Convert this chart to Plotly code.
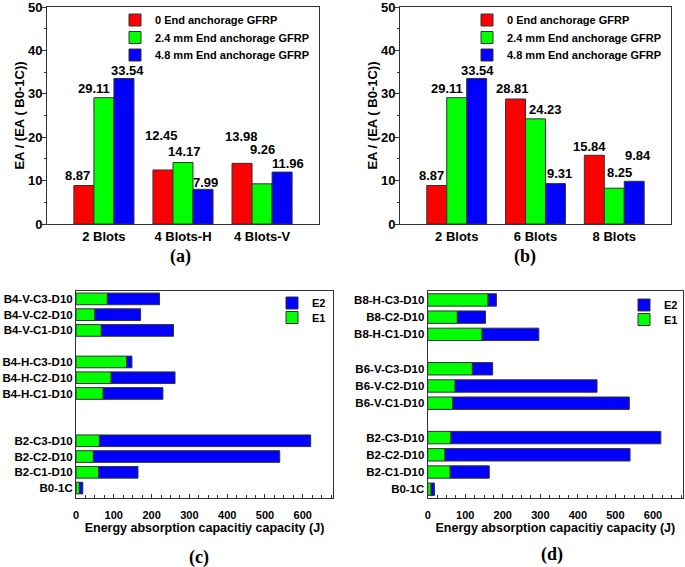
import plotly.graph_objects as go

# ---------------- data ----------------
series_names = ["0 End anchorage GFRP", "2.4 mm End anchorage GFRP", "4.8 mm End anchorage GFRP"]
series_colors = ["#FF0000", "#00FF00", "#0000FF"]

a_categories = ["2 Blots", "4 Blots-H", "4 Blots-V"]
a_red = [8.87, 12.45, 13.98]
a_green = [29.11, 14.17, 9.26]
a_blue = [33.54, 7.99, 11.96]

b_categories = ["2 Blots", "6 Blots", "8 Blots"]
b_red = [8.87, 28.81, 15.84]
b_green = [29.11, 24.23, 8.25]
b_blue = [33.54, 9.31, 9.84]

c_labels = ["B0-1C", "B2-C1-D10", "B2-C2-D10", "B2-C3-D10",
            "B4-H-C1-D10", "B4-H-C2-D10", "B4-H-C3-D10",
            "B4-V-C1-D10", "B4-V-C2-D10", "B4-V-C3-D10"]
c_e1 = [9, 60, 46, 62, 72, 93, 134, 67, 50, 83]
c_total = [18, 164, 539, 621, 230, 262, 148, 258, 171, 221]

d_labels = ["B0-1C", "B2-C1-D10", "B2-C2-D10", "B2-C3-D10",
            "B6-V-C1-D10", "B6-V-C2-D10", "B6-V-C3-D10",
            "B8-H-C1-D10", "B8-C2-D10", "B8-H-C3-D10"]
d_e1 = [9, 60, 46, 62, 67, 73, 119, 145, 79, 161]
d_total = [18, 164, 539, 621, 537, 451, 173, 296, 154, 183]

# ---------------- layout constants ----------------
c_slots = [0, 1, 2, 3, 6, 7, 8, 10, 11, 12]     # category rows incl. gaps
d_slots = [0, 1, 2, 3, 5, 6, 7, 9, 10, 11]
BAR_W = 0.2533
OFFSETS = [-0.38, -0.38 + BAR_W, -0.38 + 2 * BAR_W]
# hand placed value-label nudges (px): (dx, dy above bar top)
a_label_shift = [[(-6, 10), (-1, 34), (-1, 27)],
                 [(-10, 9), (1, 11), (0, 34)],
                 [(4, 8), (2, 7), (6, 9)]]
b_label_shift = [[(-5, 10), (-3, 10), (-5, 9)],
                 [(-10, 9), (10, 9), (5, 16)],
                 [(1, 8), (4, 10), (4, 26)]]

FONT = "Liberation Sans, Arial, sans-serif"
SERIF = "Liberation Serif, Times New Roman, serif"
LINE = "#333333"
W, H = 685, 567


def px_x(p):
    return min(1.0, max(0.0, p / W))


def px_y(p):
    return min(1.0, max(0.0, 1 - p / H))


fig = go.Figure()
legend_layout = {}
legend_font = dict(family=FONT, size=11, color="black", weight="bold")


def new_legend(x_px, y_px):
    """one legend box per entry, so that each row can be placed like the reference"""
    n = len(legend_layout) + 1
    key = "legend" if n == 1 else f"legend{n}"
    legend_layout[key] = dict(font=legend_font, bgcolor="rgba(0,0,0,0)",
                              x=px_x(x_px), y=px_y(y_px),
                              xanchor="left", yanchor="middle")
    return key


# ---- top grouped bar panels ----
def add_group(cats, vals_list, xa, ya, legend_x, legend_rows, shifts):
    for i, (name, vals, col) in enumerate(zip(series_names, vals_list, series_colors)):
        fig.add_trace(go.Bar(
            x=cats, y=vals, name=name, xaxis=xa, yaxis=ya,
            legend=new_legend(legend_x, legend_rows[i]),
            width=BAR_W, offset=OFFSETS[i],
            marker=dict(color=col, line=dict(color=LINE, width=1)),
        ))
        for j, v in enumerate(vals):
            dx, dy = shifts[i][j]
            fig.add_annotation(
                x=j + OFFSETS[i] + BAR_W / 2, y=v, xref=xa, yref=ya,
                text=f"{v:.2f}", showarrow=False, xshift=dx, yshift=dy,
                font=dict(family=FONT, size=13, color="black", weight="bold"),
                yanchor="middle", xanchor="center",
            )


add_group(a_categories, [a_red, a_green, a_blue], "x", "y", 115, [20, 37.5, 55], a_label_shift)
add_group(b_categories, [b_red, b_green, b_blue], "x2", "y2", 467, [20, 37.5, 55], b_label_shift)

# ---- bottom stacked horizontal panels ----
def add_stack(slots, e1, total, xa, ya, legend_x, legend_rows, width):
    e2 = [t - a for t, a in zip(total, e1)]
    fig.add_trace(go.Bar(
        y=slots, x=e1, orientation="h", name="E1", xaxis=xa, yaxis=ya,
        legend=new_legend(legend_x, legend_rows[1]),
        width=width, marker=dict(color="#00FF00", line=dict(color=LINE, width=1)),
    ))
    fig.add_trace(go.Bar(
        y=slots, x=e2, base=e1, orientation="h", name="E2", xaxis=xa, yaxis=ya,
        legend=new_legend(legend_x, legend_rows[0]),
        width=width, marker=dict(color="#0000FF", line=dict(color=LINE, width=1)),
    ))


add_stack(c_slots, c_e1, c_total, "x3", "y3", 272, [303, 317.5], 0.74)
add_stack(d_slots, d_e1, d_total, "x4", "y4", 624, [305, 319.5], 0.72)

tick_font_top = dict(family=FONT, size=13, color="black", weight="bold")
axis_common = dict(showline=True, linecolor=LINE, linewidth=1, mirror=True,
                   showgrid=False, zeroline=False, automargin=False,
                   ticklabeloverflow="allow")

ytop = dict(axis_common, range=[0, 50.01], tickvals=[0, 10, 20, 30, 40, 50],
            ticks="outside", ticklen=4, ticklabelstandoff=-3,
            tickcolor=LINE, tickfont=tick_font_top,
            minor=dict(dtick=5, ticks="outside", ticklen=2, tickcolor=LINE),
            title=dict(text="EA / (EA ( B0-1C))", standoff=0,
                       font=dict(family=FONT, size=13, color="black", weight="bold")))
xtop = dict(axis_common, range=[-0.72, 2.72], ticks="", tickfont=tick_font_top,
            ticklabelstandoff=0)

xbot = dict(axis_common, range=[0, 680], dtick=100, ticks="inside", ticklen=4,
            ticklabelstandoff=7,
            tickcolor=LINE, tickfont=dict(family=FONT, size=11, color="black", weight="bold"),
            minor=dict(dtick=25, ticks="inside", ticklen=3, tickcolor=LINE),
            title=dict(text="Energy absorption capacitiy capacity (J)", standoff=3,
                       font=dict(family=FONT, size=12.5, color="black", weight="bold")))
ybot_font = dict(family=FONT, size=11.5, color="black", weight="bold")

y_top_dom = [px_y(224), px_y(7)]
y_bot_dom = [px_y(498), px_y(291)]

fig.update_layout(
    width=W, height=H, margin=dict(l=0, r=0, t=0, b=0, autoexpand=False),
    paper_bgcolor="white", plot_bgcolor="white",
    barmode="overlay",
    showlegend=True,
    xaxis=dict(xtop, domain=[px_x(47), px_x(319)], anchor="y"),
    yaxis=dict(ytop, domain=y_top_dom, anchor="x"),
    xaxis2=dict(xtop, domain=[px_x(400), px_x(671)], anchor="y2"),
    yaxis2=dict(ytop, domain=y_top_dom, anchor="x2"),
    xaxis3=dict(xbot, domain=[px_x(76), px_x(333)], anchor="y3"),
    yaxis3=dict(axis_common, domain=y_bot_dom, anchor="x3", range=[-0.63, 12.5],
                tickvals=c_slots, ticktext=c_labels, ticks="", tickfont=ybot_font),
    xaxis4=dict(xbot, domain=[px_x(427.7), px_x(683)], anchor="y4"),
    yaxis4=dict(axis_common, domain=y_bot_dom, anchor="x4", range=[-0.51, 11.52],
                tickvals=d_slots, ticktext=d_labels, ticks="", tickfont=ybot_font),
    **legend_layout,
)

for txt, x, y in [("(a)", 180, 257), ("(b)", 525, 257), ("(c)", 199, 557), ("(d)", 552, 554)]:
    fig.add_annotation(text=txt, x=px_x(x), y=px_y(y), xref="paper", yref="paper",
                       showarrow=False, xanchor="center", yanchor="middle",
                       font=dict(family=SERIF, size=18, color="black", weight="bold"))

# remove the default 8px page margin so the figure fills the window exactly
fig.write_html("out.html", config={"displayModeBar": False},
               post_script="document.body.style.margin='0';")
